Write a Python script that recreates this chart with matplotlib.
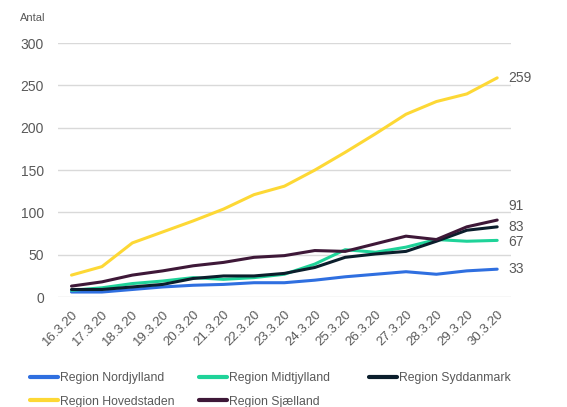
import matplotlib.pyplot as plt
import numpy as np

plt.rcParams['font.family'] = ['Liberation Sans', 'DejaVu Sans']

dates = ["16.3.20", "17.3.20", "18.3.20", "19.3.20", "20.3.20", "21.3.20", "22.3.20",
         "23.3.20", "24.3.20", "25.3.20", "26.3.20", "27.3.20", "28.3.20", "29.3.20", "30.3.20"]

nordjylland = [6, 6, 9, 12, 14, 15, 17, 17, 20, 24, 27, 30, 27, 31, 33]
midtjylland = [8, 11, 16, 19, 23, 21, 23, 27, 39, 56, 53, 59, 68, 66, 67]
syddanmark = [9, 9, 12, 15, 22, 25, 25, 28, 35, 47, 51, 54, 66, 79, 83]
hovedstaden = [26, 36, 64, 77, 90, 104, 121, 131, 150, 171, 193, 216, 231, 240, 259]
sjaelland = [13, 18, 26, 31, 37, 41, 47, 49, 55, 54, 63, 72, 68, 83, 91]

series = [
    ("Region Nordjylland", nordjylland, "#2f6fe0"),
    ("Region Midtjylland", midtjylland, "#1fd399"),
    ("Region Syddanmark", syddanmark, "#0b1e2c"),
    ("Region Hovedstaden", hovedstaden, "#fdd835"),
    ("Region Sjælland", sjaelland, "#3e1838"),
]

text_col = "#595959"

fig = plt.figure(figsize=(5.67, 4.07), dpi=100)
ax = fig.add_axes([0.102, 0.27, 0.799, 0.624])

x = np.arange(len(dates))
lines = {}
for name, vals, col in series:
    ln, = ax.plot(x, vals, color=col, linewidth=2.2, label=name, solid_capstyle='round')
    lines[name] = ln

# end labels, nudged a bit so they don't overlap
end_offsets = {"Region Hovedstaden": 0, "Region Sjælland": 10, "Region Syddanmark": 0,
               "Region Midtjylland": -1, "Region Nordjylland": 0}
for name, vals, col in series:
    ax.annotate(str(vals[-1]), xy=(x[-1], vals[-1]), xytext=(8, end_offsets[name]),
                textcoords='offset points', va='center', ha='left',
                fontsize=10, color=text_col, annotation_clip=False)

ax.set_xlim(-0.45, len(dates) - 0.55)
ax.set_ylim(0, 300)
ax.set_yticks([0, 50, 100, 150, 200, 250, 300])
ax.set_xticks(x)
ax.set_xticklabels(dates, rotation=45, ha='right', rotation_mode='anchor')
ax.tick_params(axis='both', length=0, colors=text_col, labelsize=10)
ax.tick_params(axis='x', labelsize=9.5, pad=8)
ax.tick_params(axis='y', pad=10)
ax.grid(axis='y', color='#d9d9d9', linewidth=1)
ax.set_axisbelow(True)
for sp in ax.spines.values():
    sp.set_visible(False)

fig.text(0.036, 0.955, "Antal", fontsize=8, color=text_col, ha='left', va='center')

# legend: three evenly spaced columns, like the original
columns = [["Region Nordjylland", "Region Hovedstaden"],
           ["Region Midtjylland", "Region Sjælland"],
           ["Region Syddanmark"]]
col_x = [30, 199, 369]
for names, px in zip(columns, col_x):
    leg = fig.legend([lines[n] for n in names], names, loc='upper left',
                     bbox_to_anchor=(px / 567, 1 - 372 / 407), frameon=False, fontsize=8.8,
                     handlelength=2.3, handletextpad=0.15,
                     labelspacing=0.95, borderpad=0, borderaxespad=0)
    for t in leg.get_texts():
        t.set_color(text_col)
    for h in leg.legend_handles:
        h.set_linewidth(3)

fig.savefig("out.png", dpi=100)
